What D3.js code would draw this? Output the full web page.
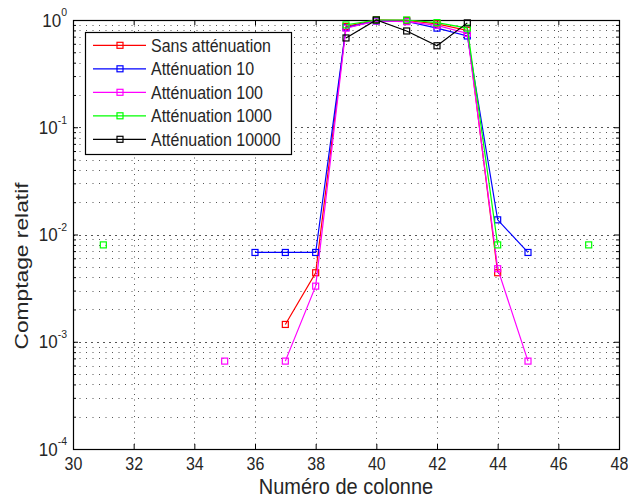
<!DOCTYPE html>
<html>
<head>
<meta charset="utf-8">
<script src="https://cdn.jsdelivr.net/npm/d3@7"></script>
<style>
  html, body { margin: 0; padding: 0; background: #fff; }
  svg { display: block; font-family: "Liberation Sans", Arial, Helvetica, sans-serif; }
</style>
</head>
<body>
<svg id="chart" width="628" height="499"></svg>
<script>
// ---- Data ----
const colonnes = [31, 32, 33, 34, 35, 36, 37, 38, 39, 40, 41, 42, 43, 44, 45, 46, 47];
const sansAttenuation = [null, null, null, null, null, null, 0.00145, 0.0044, 0.87, 1.0, 0.99, 0.92, 0.80, 0.0044, null, null, null];
const attenuation10 = [null, null, null, null, null, 0.0068, 0.0068, 0.0068, 0.85, 0.98, 0.97, 0.84, 0.71, 0.0137, 0.0068, null, null];
const attenuation100 = [null, null, null, null, 0.00066, null, 0.00066, 0.0033, 0.84, 0.98, 0.965, 0.89, 0.75, 0.0048, 0.00066, null, null];
const attenuation1000 = [0.008, null, null, null, null, null, null, null, 0.90, 1.0, 1.0, 0.945, 0.84, 0.008, null, null, 0.008];
const attenuation10000 = [null, null, null, null, null, null, null, null, 0.68, 1.0, 0.79, 0.575, 0.94, null, null, null, null];

const seriesNames = ["Sans atténuation", "Atténuation 10", "Atténuation 100", "Atténuation 1000", "Atténuation 10000"];
const seriesValues = [sansAttenuation, attenuation10, attenuation100, attenuation1000, attenuation10000];
const seriesColors = ["#ff0000", "#0000ff", "#ff00ff", "#00ff00", "#000000"];

const xTicks = [30, 32, 34, 36, 38, 40, 42, 44, 46, 48];
const yTicks = [1e-4, 1e-3, 1e-2, 1e-1, 1];
const yExponents = ["-4", "-3", "-2", "-1", "0"];
const xLabel = "Numéro de colonne";
const yLabel = "Comptage relatif";

// ---- Layout ----
const X0 = 73, X1 = 619, Y0 = 20, Y1 = 449;
const SY = 1.12; // vertical text stretch
const TXT = "#262626";

const svg = d3.select("#chart");
const x = d3.scaleLinear().domain([30, 48]).range([X0, X1]);
const y = d3.scaleLog().domain([1e-4, 1]).range([Y1, Y0]);

const yMinor = [];
for (let k = -4; k < 0; k++) for (let m = 2; m <= 9; m++) yMinor.push(m * Math.pow(10, k));

svg.append("rect").attr("x", X0).attr("y", Y0).attr("width", X1 - X0).attr("height", Y1 - Y0).attr("fill", "#fff");

// ---- Grid ----
const grid = svg.append("g").attr("stroke", "#555").attr("stroke-width", 1).attr("fill", "none");
grid.selectAll("line.vx").data(xTicks.slice(1, -1)).join("line")
  .attr("x1", d => Math.round(x(d)) + 0.5).attr("x2", d => Math.round(x(d)) + 0.5)
  .attr("y1", Y0).attr("y2", Y1).attr("stroke-dasharray", "1,4.5");
grid.selectAll("line.hmin").data(yMinor).join("line")
  .attr("x1", X0).attr("x2", X1)
  .attr("y1", d => Math.round(y(d)) + 0.5).attr("y2", d => Math.round(y(d)) + 0.5)
  .attr("stroke-dasharray", "1,5.5");
grid.selectAll("line.hmaj").data(yTicks.slice(1, -1)).join("line")
  .attr("x1", X0).attr("x2", X1)
  .attr("y1", d => Math.round(y(d)) + 0.5).attr("y2", d => Math.round(y(d)) + 0.5)
  .attr("stroke-dasharray", "2,4");

// ---- Axes (ticks inward) ----
function styleAxis(g) {
  g.select(".domain").remove();
  g.selectAll(".tick line").attr("stroke", "#000");
}
const xAxis = svg.append("g").attr("transform", `translate(0,${Y1})`)
  .call(d3.axisBottom(x).tickValues(xTicks).tickSize(-5).tickFormat(d3.format("d")))
  .call(styleAxis);
xAxis.selectAll(".tick text")
  .attr("y", null).attr("dy", null)
  .attr("transform", `translate(0,21) scale(1,${SY})`)
  .attr("font-size", 16).attr("fill", TXT).attr("font-family", null);

svg.append("g").attr("transform", `translate(0,${Y0})`)
  .call(d3.axisTop(x).tickValues(xTicks).tickSize(-5).tickFormat(""))
  .call(styleAxis);

const yAxis = svg.append("g").attr("transform", `translate(${X0},0)`)
  .call(d3.axisLeft(y).tickValues(yTicks).tickSize(-5).tickFormat(() => ""))
  .call(styleAxis);
yAxis.selectAll(".tick text").each(function(d, i) {
  const t = d3.select(this);
  t.attr("x", null).attr("dy", null).attr("font-family", null)
   .attr("text-anchor", "end").attr("fill", TXT)
   .attr("transform", `translate(-6,6) scale(1,${SY})`);
  t.text(null);
  t.append("tspan").attr("font-size", 17).text("10");
  t.append("tspan").attr("font-size", 10.5).attr("dy", -9).text(yExponents[i]);
});
svg.append("g").attr("transform", `translate(${X0},0)`)
  .call(d3.axisLeft(y).tickValues(yMinor).tickSize(-3).tickFormat(""))
  .call(styleAxis);
svg.append("g").attr("transform", `translate(${X1},0)`)
  .call(d3.axisRight(y).tickValues(yTicks).tickSize(-5).tickFormat(""))
  .call(styleAxis);
svg.append("g").attr("transform", `translate(${X1},0)`)
  .call(d3.axisRight(y).tickValues(yMinor).tickSize(-3).tickFormat(""))
  .call(styleAxis);

// Box
svg.append("rect").attr("x", X0 + 0.5).attr("y", Y0 + 0.5)
  .attr("width", X1 - X0).attr("height", Y1 - Y0)
  .attr("fill", "none").attr("stroke", "#000").attr("stroke-width", 1.2);

// ---- Series ----
const line = d3.line()
  .defined(d => d.v != null)
  .x(d => x(d.c)).y(d => y(d.v));

const plot = svg.append("g");
seriesValues.forEach((vals, si) => {
  const pts = colonnes.map((c, i) => ({ c, v: vals[i] }));
  const g = plot.append("g");
  g.append("path").datum(pts).attr("d", line)
    .attr("fill", "none").attr("stroke", seriesColors[si]).attr("stroke-width", 1.2);
  g.selectAll("rect").data(pts.filter(p => p.v != null)).join("rect")
    .attr("x", d => x(d.c) - 3).attr("y", d => y(d.v) - 3)
    .attr("width", 6).attr("height", 6)
    .attr("fill", "none").attr("stroke", seriesColors[si]).attr("stroke-width", 1.2);
});

// ---- Legend ----
const LX = 85, LY = 32, LW = 206, LH = 122;
const legend = svg.append("g");
legend.append("rect").attr("x", LX + 0.5).attr("y", LY + 0.5).attr("width", LW).attr("height", LH)
  .attr("fill", "#fff").attr("stroke", "#000").attr("stroke-width", 1.2);
seriesNames.forEach((name, i) => {
  const cy = 45.3 + i * 23.5;
  legend.append("line").attr("x1", 93).attr("x2", 146).attr("y1", cy).attr("y2", cy)
    .attr("stroke", seriesColors[i]).attr("stroke-width", 1.2);
  legend.append("rect").attr("x", 120 - 3).attr("y", cy - 3).attr("width", 6).attr("height", 6)
    .attr("fill", "none").attr("stroke", seriesColors[i]).attr("stroke-width", 1.2);
  legend.append("text").attr("transform", `translate(151,${cy + 6.5}) scale(1,${SY})`)
    .attr("font-size", 16).attr("fill", TXT).text(name);
});

// ---- Axis labels ----
svg.append("text").attr("transform", `translate(${(X0 + X1) / 2},494) scale(1,${SY})`)
  .attr("text-anchor", "middle").attr("font-size", 20).attr("fill", TXT).text(xLabel);
svg.append("text").attr("transform", `translate(28,266) rotate(-90) scale(1.2,1)`)
  .attr("text-anchor", "middle").attr("font-size", 19).attr("fill", TXT).text(yLabel);
</script>
</body>
</html>
